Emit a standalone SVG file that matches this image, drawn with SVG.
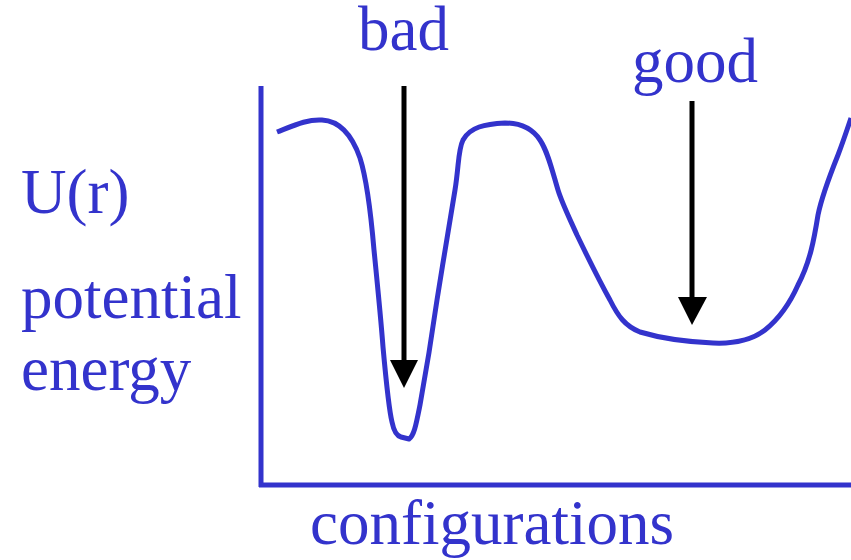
<svg xmlns="http://www.w3.org/2000/svg" width="851" height="560" viewBox="0 0 851 560">
<style>
.t{font-family:"Liberation Serif","Times New Roman",serif;font-size:63px;fill:#3333CC}
.ax{stroke:#3333CC;stroke-width:5;fill:none}
.cv{stroke:#3333CC;stroke-width:5;fill:none;stroke-linejoin:round;stroke-linecap:butt}
.ar{stroke:#000;stroke-width:5;fill:none}
.hd{fill:#000}
</style>
<rect width="851" height="560" fill="#fff"/>
<g id="axes">
<line class="ax" x1="261" y1="86" x2="261" y2="487"/>
<line class="ax" x1="259" y1="485" x2="851" y2="485"/>
</g>
<g id="curve">
<path class="cv" d="M277,132 C295,125 308,119 322,120 C340,121 352,135 360,158 C367,180 371,215 374,250 C378,290 381,320 383,347 C386,380 389,410 392,422 C394,432 397,436 401,437 L409,439 C414,436 416,425 420,405 C424,383 432,335 437,300 C443,262 451,215 455,190 C459,165 458,150 463,140 C470,127 485,124 505,123 C520,123 532,128 540,140 C548,152 552,170 558,190 C562,203 568,215 577,235 C590,262 600,282 610,300 C618,316 625,326 640,332 C660,338 690,342 713,343 C735,344 752,340 765,330 C780,318 790,303 798,285 C810,262 814,240 818,215 C822,195 830,175 838,155 C843,142 847,130 851,118"/>
</g>
<g id="labels">
<text class="t" x="21" y="213">U(r)</text>
<text class="t" x="21" y="318">potential</text>
<text class="t" x="21" y="390">energy</text>
<text class="t" x="310" y="544">configurations</text>
</g>
<g id="bad">
<text class="t" x="358" y="50">bad</text>
</g>
<g id="good">
<text class="t" x="632" y="82">good</text>
</g>
<g id="connectors">
<line class="ar" x1="404" y1="86" x2="404" y2="362"/>
<polygon class="hd" points="390,360 418,360 404,388"/>
<line class="ar" x1="692" y1="101" x2="692" y2="299"/>
<polygon class="hd" points="678,297 707,297 692,325"/>
</g>
</svg>
